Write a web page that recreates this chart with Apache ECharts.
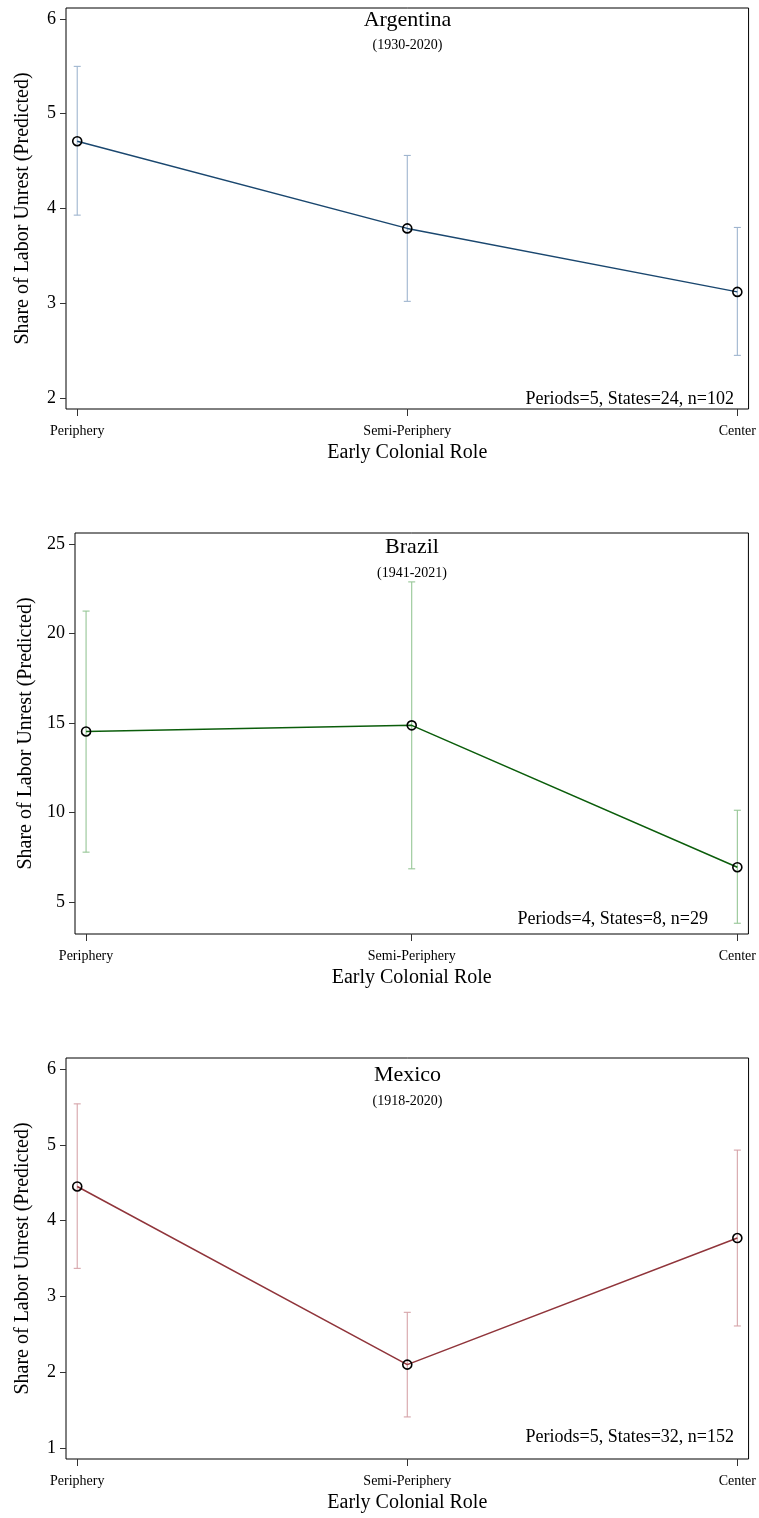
<!DOCTYPE html>
<html>
<head>
<meta charset="utf-8">
<script src="https://cdn.jsdelivr.net/npm/echarts@6/dist/echarts.min.js"></script>
<style>
  html, body { margin: 0; padding: 0; background: #fff; }
  #chart { width: 759px; height: 1518px; }
</style>
</head>
<body>
<div id="chart"></div>
<script>
// Predicted share of labor unrest by early colonial role, one panel per country
const categories = ['Periphery', 'Semi-Periphery', 'Center'];
const categoryPos = [1, 2, 3];

const argentinaMean = [4.71, 3.79, 3.12];
const argentinaLow  = [3.93, 3.02, 2.45];
const argentinaHigh = [5.50, 4.56, 3.80];

const brazilMean = [14.53, 14.87, 6.95];
const brazilLow  = [7.79, 6.86, 3.82];
const brazilHigh = [21.25, 22.88, 10.13];

const mexicoMean = [4.45, 2.10, 3.77];
const mexicoLow  = [3.37, 1.41, 2.61];
const mexicoHigh = [5.54, 2.79, 4.93];

const argentinaTicks = [2, 3, 4, 5, 6];
const brazilTicks = [5, 10, 15, 20, 25];
const mexicoTicks = [1, 2, 3, 4, 5, 6];

const FONT = 'Liberation Serif';

const panels = [
  { title: 'Argentina', years: '(1930-2020)', note: 'Periods=5, States=24, n=102',
    mean: argentinaMean, low: argentinaLow, high: argentinaHigh, ticks: argentinaTicks,
    yMin: 1.884, yMax: 6.116, line: '#1a476f', ci: '#9fb5cf',
    grid: { left: 66, top: 8, width: 683, height: 401 },
    titleY: 20, yearsY: 45, noteX: 734, noteY: 399 },
  { title: 'Brazil', years: '(1941-2021)', note: 'Periods=4, States=8, n=29',
    mean: brazilMean, low: brazilLow, high: brazilHigh, ticks: brazilTicks,
    yMin: 3.22, yMax: 25.61, line: '#0b5d0b', ci: '#96c696',
    grid: { left: 75, top: 533, width: 674, height: 401 },
    titleY: 547, yearsY: 573, noteX: 708, noteY: 919 },
  { title: 'Mexico', years: '(1918-2020)', note: 'Periods=5, States=32, n=152',
    mean: mexicoMean, low: mexicoLow, high: mexicoHigh, ticks: mexicoTicks,
    yMin: 0.855, yMax: 6.145, line: '#90353b', ci: '#d6a4a9',
    grid: { left: 66, top: 1058, width: 683, height: 401 },
    titleY: 1075, yearsY: 1101, noteX: 734, noteY: 1437 }
];

function errorBar(params, api) {
  const x = api.value(0);
  const p1 = api.coord([x, api.value(2)]);
  const p0 = api.coord([x, api.value(1)]);
  const hw = 3.5;
  const style = { stroke: api.visual('color'), lineWidth: 1.1 };
  return {
    type: 'group',
    children: [
      { type: 'line', shape: { x1: p1[0], y1: p1[1], x2: p0[0], y2: p0[1] }, style },
      { type: 'line', shape: { x1: p1[0] - hw, y1: p1[1], x2: p1[0] + hw, y2: p1[1] }, style },
      { type: 'line', shape: { x1: p0[0] - hw, y1: p0[1], x2: p0[0] + hw, y2: p0[1] }, style }
    ]
  };
}

const grids = [], xAxes = [], yAxes = [], series = [], graphics = [];

panels.forEach((p, i) => {
  grids.push(Object.assign({ show: true, borderColor: '#000', borderWidth: 1, backgroundColor: '#fff' }, p.grid));

  xAxes.push({
    type: 'value', gridIndex: i, min: 0.966, max: 3.034,
    name: 'Early Colonial Role', nameLocation: 'middle', nameGap: 34,
    nameTextStyle: { fontFamily: FONT, fontSize: 20, color: '#000' },
    axisLine: { show: false },
    splitLine: { show: false },
    axisTick: { show: true, length: 7, customValues: categoryPos, lineStyle: { color: '#333', width: 1 } },
    axisLabel: {
      customValues: categoryPos, margin: 15,
      fontFamily: FONT, fontSize: 14, color: '#000',
      formatter: v => categories[Math.round(v) - 1]
    }
  });

  yAxes.push({
    type: 'value', gridIndex: i, min: p.yMin, max: p.yMax,
    name: 'Share of Labor Unrest (Predicted)', nameLocation: 'middle', nameGap: 33,
    nameTextStyle: { fontFamily: FONT, fontSize: 20, color: '#000' },
    axisLine: { show: false },
    splitLine: { show: false },
    axisTick: { show: true, length: 6, customValues: p.ticks, lineStyle: { color: '#333', width: 1 } },
    axisLabel: { customValues: p.ticks, margin: 10, fontFamily: FONT, fontSize: 18, color: '#000' }
  });

  series.push({
    type: 'custom', xAxisIndex: i, yAxisIndex: i, z: 2,
    itemStyle: { color: p.ci },
    renderItem: errorBar,
    encode: { x: 0, y: [1, 2] },
    data: categoryPos.map((x, k) => [x, p.low[k], p.high[k]])
  });

  series.push({
    type: 'line', xAxisIndex: i, yAxisIndex: i, z: 3,
    symbol: 'circle', symbolSize: 9,
    itemStyle: { color: 'rgba(255,255,255,0)', borderColor: '#000', borderWidth: 1.6 },
    lineStyle: { color: p.line, width: 1.5 },
    emphasis: { disabled: true },
    data: categoryPos.map((x, k) => [x, p.mean[k]])
  });

  const cx = p.grid.left + p.grid.width / 2;
  graphics.push(
    { type: 'text', x: cx, y: p.titleY, z: 10,
      style: { text: p.title, font: '22px "' + FONT + '"', fill: '#000', align: 'center', verticalAlign: 'middle' } },
    { type: 'text', x: cx, y: p.yearsY, z: 10,
      style: { text: p.years, font: '14px "' + FONT + '"', fill: '#000', align: 'center', verticalAlign: 'middle' } },
    { type: 'text', x: p.noteX, y: p.noteY, z: 10,
      style: { text: p.note, font: '18px "' + FONT + '"', fill: '#000', align: 'right', verticalAlign: 'middle' } }
  );
});

const chart = echarts.init(document.getElementById('chart'), null, { renderer: 'canvas' });
chart.setOption({
  animation: false,
  backgroundColor: '#fff',
  grid: grids,
  xAxis: xAxes,
  yAxis: yAxes,
  series: series,
  graphic: graphics
});
</script>
</body>
</html>
